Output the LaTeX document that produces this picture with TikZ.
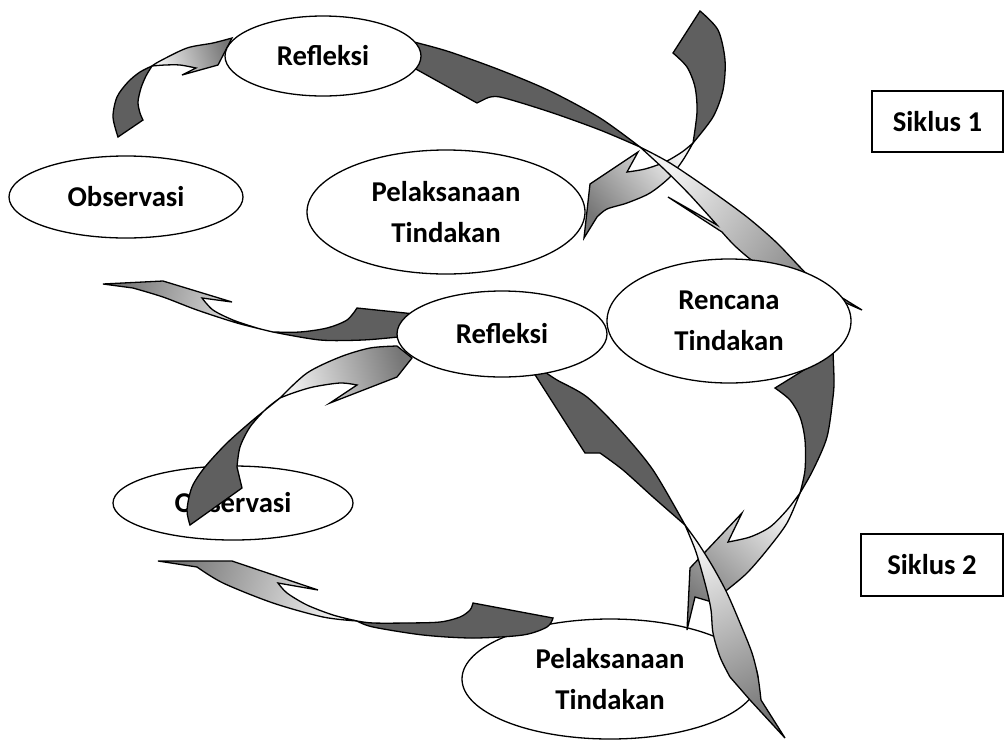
\documentclass[tikz,border=0pt]{standalone}
\usepackage{fontspec}
\setmainfont{Carlito}
\usetikzlibrary{shapes.geometric}
\definecolor{ribdark}{HTML}{5F5F5F}
\definecolor{ribmid}{HTML}{767676}

\begin{document}
\begin{tikzpicture}[x=1pt, y=-1pt, line width=1.3pt,
    every node/.style={font=\fontsize{28.7}{41}\selectfont\bfseries, align=center},
    stage/.style={ellipse, draw, fill=white, inner sep=0pt},
    cyclebox/.style={draw, line width=1.8pt, fill=white, inner sep=0pt},
    back/.style={draw, fill=ribdark},
    front/.style={draw, top color=ribmid, bottom color=white!95!black}]
    \useasboundingbox (0,0) rectangle (1004,740);

    \node[stage, minimum width=240pt, minimum height=74pt] (obs2) at (233,503) {Observasi};
    \node[stage, minimum width=296pt, minimum height=120pt] (pel2) at (610,679) {Pelaksanaan\\Tindakan};

    \draw[back] plot[smooth] coordinates {(118,137) (113,117) (117,97) (128,82) (140,72) (152,66)}
        -- plot[smooth] coordinates {(152,66) (146,76) (141,88) (138,102) (140,113) (143,120)} -- cycle;
    \draw[front, shading angle=-72] plot[smooth] coordinates {(152,66) (160,61) (187,48) (213,43) (232,38)}
        -- (218,65) -- (182,75) -- (196,68)
        -- plot[smooth] coordinates {(196,68) (180,65) (165,65) (152,66)} -- cycle;

    \draw[back] (673,53) -- plot[smooth] coordinates {(700,11) (718,30) (725,60) (723,90) (713,117) (693,143)}
        -- plot[smooth] coordinates {(693,143) (697,112) (695,87) (687,67) (673,53)} -- cycle;
    \draw[front, shading angle=131] plot[smooth] coordinates {(693,143) (683,160) (670,177) (650,193) (627,203) (607,209) (597,217)}
        -- (584,238) -- (590,184) -- (638,152) -- (627,172)
        -- plot[smooth] coordinates {(627,172) (645,169) (665,162) (682,152) (693,143)} -- cycle;

    \draw[back] plot[smooth] coordinates {(405,40) (418,43) (450,52) (500,70) (550,91) (600,118) (640,147)}
        -- plot[smooth] coordinates {(640,147) (600,130) (550,112) (500,97) (485,99)} -- (477,103) -- (405,63) -- cycle;
    \draw[front, shading angle=-126] plot[smooth] coordinates {(640,147) (670,163) (710,190) (747,217) (777,243) (808,275) (833,292) (862,310)}
        -- plot[smooth] coordinates {(862,310) (835,298) (800,281) (770,268) (753,261) (735,246) (722,232)}
        -- (668,197) -- (717,225)
        -- plot[smooth] coordinates {(717,225) (690,195) (665,170) (640,147)} -- cycle;

    \draw[back] (357,308) -- (415,314) -- (405,338)
        -- plot[smooth] coordinates {(398,337) (363,340) (320,340) (273,332)}
        -- plot[smooth] coordinates {(273,332) (300,332) (327,328) (347,320) (357,308)} -- cycle;
    \draw[front, shading angle=74] plot[smooth] coordinates {(273,332) (237,323) (197,310) (163,297) (133,288)}
        -- (103,284) -- (163,281) -- (232,302) -- (202,298)
        -- plot[smooth] coordinates {(202,298) (213,310) (233,320) (257,328) (273,332)} -- cycle;

    \draw[back] (190,525) -- (242,488) -- (237,467)
        -- plot[smooth] coordinates {(237,467) (240,447) (250,427) (266,409) (280,398)}
        -- plot[smooth] coordinates {(280,398) (253,420) (227,443) (205,467) (192,487) (187,510) (190,525)} -- cycle;
    \draw[front, shading angle=-74] plot[smooth] coordinates {(280,398) (307,373) (340,357) (370,348) (397,346)}
        -- (412,358) -- (397,377) -- (330,403) -- (357,385)
        -- plot[smooth] coordinates {(357,385) (340,383) (313,387) (293,393) (280,398)} -- cycle;

    \draw[back] (775,388) -- plot[smooth] coordinates {(833,352) (834,380) (833,397) (827,437) (813,470) (800,493)}
        -- plot[smooth] coordinates {(800,493) (805,470) (805,440) (800,417) (790,400) (775,388)} -- cycle;
    \draw[front, shading angle=139] plot[smooth] coordinates {(800,493) (787,523) (767,550) (747,573) (727,590) (712,602)}
        -- (695,597) -- (687,630) -- (690,568) -- (742,513) -- (728,542)
        -- plot[smooth] coordinates {(728,542) (750,537) (770,527) (787,510) (800,493)} -- cycle;

    \draw[back] (532,370) -- plot[smooth] coordinates {(545,372) (557,380) (587,397) (620,430) (653,470) (685,525)}
        -- plot[smooth] coordinates {(685,525) (653,497) (623,470) (600,453)} -- (585,453) -- cycle;
    \draw[front, shading angle=-155] plot[smooth] coordinates {(685,525) (698,543) (713,567) (727,593) (740,623) (752,653) (758,677) (761,700)}
        -- (785,738) -- (750,700) -- (730,677)
        -- plot[smooth] coordinates {(730,677) (720,657) (713,633) (711,610) (706,587) (696,552) (685,525)} -- cycle;

    \draw[back] (473,603) -- (553,618)
        -- plot[smooth] coordinates {(553,618) (547,627) (523,635) (473,638) (423,635) (373,627) (357,621)}
        -- plot[smooth] coordinates {(357,621) (373,623) (407,623) (440,622) (460,617) (470,610) (473,603)} -- cycle;
    \draw[front, shading angle=73] plot[smooth] coordinates {(357,621) (323,617) (273,603) (223,583) (197,567)}
        -- (158,561) -- (232,561) -- (318,590) -- (278,583)
        -- plot[smooth] coordinates {(278,583) (287,593) (307,605) (333,615) (357,621)} -- cycle;

    \node[stage, minimum width=196pt, minimum height=80pt] (refl1) at (323,56) {Refleksi};
    \node[stage, minimum width=234pt, minimum height=82pt] (obs1) at (126,197) {Observasi};
    \node[stage, minimum width=278pt, minimum height=124pt] (pel1) at (446,212) {Pelaksanaan\\Tindakan};
    \node[stage, minimum width=244pt, minimum height=124pt] (renc) at (729,321) {Rencana\\Tindakan};
    \node[stage, minimum width=210pt, minimum height=86pt] (refl2) at (502,334) {Refleksi};

    \node[cyclebox, minimum width=131pt, minimum height=61pt] (cyc1) at (937.5,121.5) {Siklus 1};
    \node[cyclebox, minimum width=142pt, minimum height=62pt] (cyc2) at (932,565) {Siklus 2};
\end{tikzpicture}
\end{document}
